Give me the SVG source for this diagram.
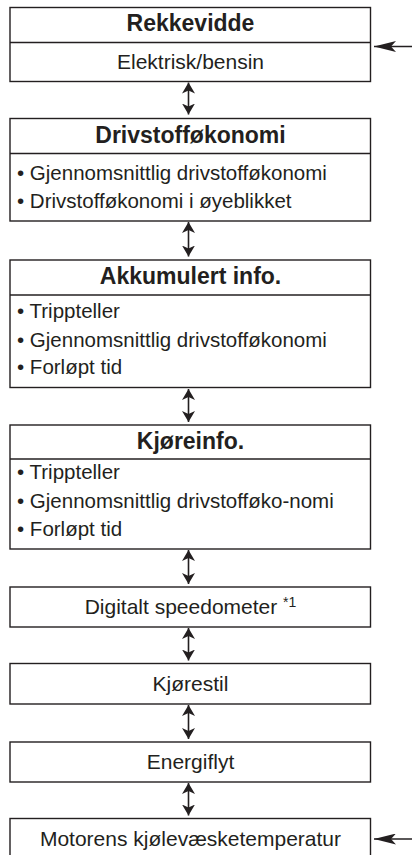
<svg xmlns="http://www.w3.org/2000/svg" width="412" height="855" viewBox="0 0 412 855">
<style>
.box{fill:#fff;stroke:#231f20;stroke-width:1.4}
.div{stroke:#231f20;stroke-width:1.4}
.t{font-family:"Liberation Sans",Arial,sans-serif;fill:#231f20}
.h{font-size:23px;font-weight:bold;text-anchor:middle}
.c{font-size:21px;text-anchor:middle}
.b{font-size:20.5px}
.con{stroke:#231f20;stroke-width:1.6;fill:none}
</style>
<defs>
<marker id="va" viewBox="0 0 11 13" refX="11" refY="6.5" markerWidth="11" markerHeight="13" markerUnits="userSpaceOnUse" orient="auto-start-reverse">
<path d="M0,0 L11,6.5 L0,13 L3,6.5 Z" fill="#231f20"/>
</marker>
<marker id="ha" viewBox="0 0 22 11" refX="22" refY="5.5" markerWidth="22" markerHeight="11" markerUnits="userSpaceOnUse" orient="auto">
<path d="M0,0 L22,5.5 L0,11 L5,5.5 Z" fill="#231f20"/>
</marker>
</defs>
<g id="n1">
<rect class="box" x="10" y="7.5" width="360.5" height="74"/>
<line class="div" x1="10" y1="42.5" x2="370.5" y2="42.5"/>
<text class="t h" x="190.5" y="31">Rekkevidde</text>
<text class="t c" x="190.5" y="68.5" font-size="22">Elektrisk/bensin</text>
</g>
<g id="n2">
<rect class="box" x="10" y="118.5" width="360.5" height="102.5"/>
<line class="div" x1="10" y1="153.5" x2="370.5" y2="153.5"/>
<text class="t h" x="190.5" y="142.5">Drivstofføkonomi</text>
<text class="t b" x="17" y="180">• Gjennomsnittlig drivstofføkonomi</text>
<text class="t b" x="17" y="208">• Drivstofføkonomi i øyeblikket</text>
</g>
<g id="n3">
<rect class="box" x="10" y="260" width="360.5" height="127.5"/>
<line class="div" x1="10" y1="295" x2="370.5" y2="295"/>
<text class="t h" x="190.5" y="284">Akkumulert info.</text>
<text class="t b" x="17" y="318">• Trippteller</text>
<text class="t b" x="17" y="346.5">• Gjennomsnittlig drivstofføkonomi</text>
<text class="t b" x="17" y="373.5">• Forløpt tid</text>
</g>
<g id="n4">
<rect class="box" x="10" y="425" width="360.5" height="124"/>
<line class="div" x1="10" y1="459" x2="370.5" y2="459"/>
<text class="t h" x="190.5" y="449">Kjøreinfo.</text>
<text class="t b" x="17" y="478.5">• Trippteller</text>
<text class="t b" x="17" y="507.5">• Gjennomsnittlig drivstofføko-nomi</text>
<text class="t b" x="17" y="536">• Forløpt tid</text>
</g>
<g id="n5">
<rect class="box" x="10" y="587" width="360.5" height="40"/>
<text class="t c" x="190.5" y="613.5">Digitalt speedometer <tspan font-size="14" dy="-7">*1</tspan></text>
</g>
<g id="n6">
<rect class="box" x="10" y="663.5" width="360.5" height="40.5"/>
<text class="t c" x="190.5" y="690.5">Kjørestil</text>
</g>
<g id="n7">
<rect class="box" x="10" y="742" width="360.5" height="40"/>
<text class="t c" x="190.5" y="768.5">Energiflyt</text>
</g>
<g id="n8">
<rect class="box" x="10" y="818.5" width="360.5" height="40"/>
<text class="t c" x="190.5" y="845.5">Motorens kjølevæsketemperatur</text>
</g>
<g id="connectors">
<line class="con" x1="188.5" y1="82.5" x2="188.5" y2="114.5" marker-start="url(#va)" marker-end="url(#va)"/>
<line class="con" x1="188.5" y1="222" x2="188.5" y2="256.5" marker-start="url(#va)" marker-end="url(#va)"/>
<line class="con" x1="188.5" y1="389" x2="188.5" y2="422" marker-start="url(#va)" marker-end="url(#va)"/>
<line class="con" x1="188.5" y1="550" x2="188.5" y2="584" marker-start="url(#va)" marker-end="url(#va)"/>
<line class="con" x1="188.5" y1="628" x2="188.5" y2="660.5" marker-start="url(#va)" marker-end="url(#va)"/>
<line class="con" x1="188.5" y1="705" x2="188.5" y2="739" marker-start="url(#va)" marker-end="url(#va)"/>
<line class="con" x1="188.5" y1="783" x2="188.5" y2="815.5" marker-start="url(#va)" marker-end="url(#va)"/>
<line class="con" x1="412" y1="46.5" x2="374" y2="46.5" marker-end="url(#ha)"/>
<line class="con" x1="412" y1="839" x2="374" y2="839" marker-end="url(#ha)"/>
</g>
</svg>
